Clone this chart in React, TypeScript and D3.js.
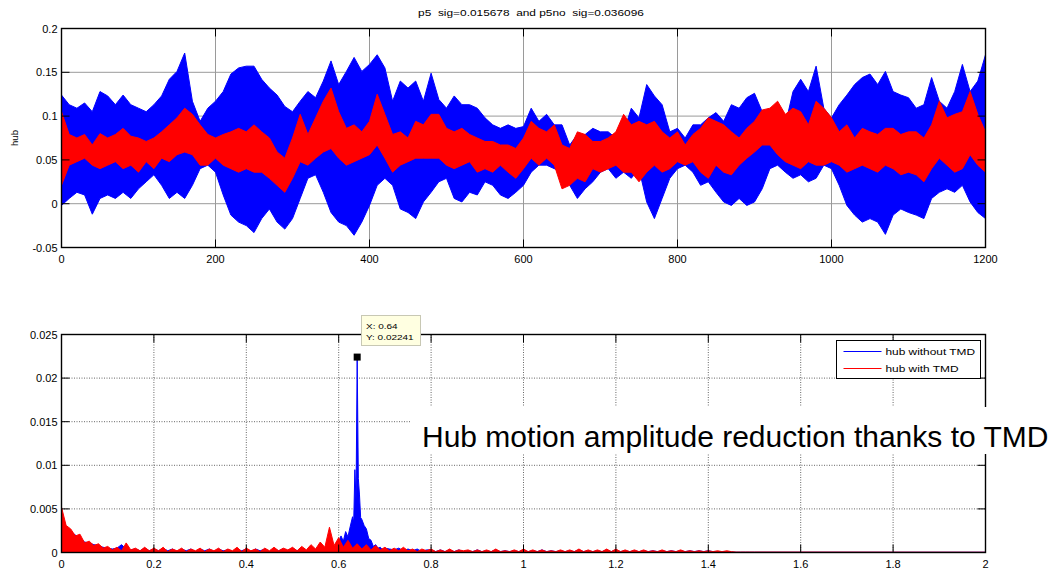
import React from "react";
import * as d3 from "d3";

// ---------- Top panel: time series envelopes (t = 0..1200, every 10 s) ----------
const TIME_STEP = 10;
const BLUE_HI = [
  0.124, 0.113, 0.109, 0.115, 0.105, 0.128, 0.123, 0.113, 0.124, 0.113,
  0.109, 0.105, 0.113, 0.123, 0.142, 0.151, 0.172, 0.117, 0.094, 0.109,
  0.117, 0.128, 0.148, 0.155, 0.157, 0.157, 0.142, 0.132, 0.124, 0.111,
  0.105, 0.117, 0.128, 0.121, 0.140, 0.163, 0.136, 0.151, 0.167, 0.151,
  0.159, 0.170, 0.155, 0.117, 0.140, 0.132, 0.140, 0.117, 0.149, 0.119,
  0.109, 0.123, 0.113, 0.113, 0.109, 0.098, 0.090, 0.086, 0.090, 0.086,
  0.088,
  0.109, 0.094, 0.102, 0.090, 0.090, 0.067, 0.079, 0.079, 0.086, 0.082,
  0.082, 0.075, 0.082, 0.109, 0.098, 0.136, 0.123, 0.113, 0.082, 0.086,
  0.075, 0.090, 0.090, 0.098, 0.104, 0.094, 0.113, 0.109, 0.121, 0.126,
  0.105, 0.082, 0.086, 0.090, 0.128, 0.142, 0.128, 0.157, 0.109, 0.098,
  0.113, 0.124, 0.136, 0.144, 0.148, 0.136, 0.151, 0.128, 0.124, 0.121,
  0.109, 0.113, 0.144, 0.117, 0.109, 0.128, 0.159, 0.128, 0.140, 0.170,
];
const BLUE_LO = [
  -0.002, 0.006, 0.013, 0.010, -0.012, 0.006, 0.010, 0.006, 0.013, 0.006,
  0.017, 0.025, 0.033, 0.021, 0.006, 0.013, 0.006, 0.021, 0.040, 0.044,
  0.036, 0.010, -0.013, -0.021, -0.025, -0.033, -0.017, -0.006, -0.021, -0.029,
  -0.017, 0.006, 0.029, 0.033, 0.013, -0.010, -0.021, -0.025, -0.036, -0.021,
  -0.002, 0.021, 0.029, 0.021, -0.006, -0.010, -0.017, 0.002, 0.013, 0.025,
  0.029, 0.006, 0.002, 0.013, 0.010, 0.025, 0.021, 0.010, 0.006, 0.013,
  0.021,
  0.036, 0.044, 0.044, 0.040, 0.036, 0.021, 0.006, 0.017, 0.025, 0.036,
  0.040, 0.029, 0.036, 0.029, 0.040, 0.002, -0.017, 0.006, 0.029, 0.040,
  0.044, 0.036, 0.021, 0.025, 0.013, 0.002, -0.002, 0.006, -0.002, 0.002,
  0.017, 0.040, 0.044, 0.036, 0.029, 0.033, 0.025, 0.029, 0.044, 0.040,
  0.021, -0.002, -0.013, -0.021, -0.017, -0.021, -0.035, -0.013, -0.006, -0.010,
  -0.013, -0.017, 0.006, 0.013, 0.017, 0.013, 0.021, 0.002, -0.010, -0.017,
];
const RED_HI = [
  0.105, 0.079, 0.075, 0.079, 0.067, 0.080, 0.075, 0.079, 0.086, 0.077,
  0.075, 0.071, 0.075, 0.082, 0.090, 0.098, 0.109, 0.102, 0.090, 0.079,
  0.075, 0.079, 0.082, 0.086, 0.082, 0.090, 0.082, 0.075, 0.059, 0.052,
  0.075, 0.102, 0.079, 0.098, 0.117, 0.132, 0.105, 0.086, 0.090, 0.082,
  0.094, 0.125, 0.102, 0.079, 0.082, 0.075, 0.094, 0.090, 0.102, 0.102,
  0.086, 0.082, 0.086, 0.079, 0.075, 0.071, 0.071, 0.067, 0.067, 0.063,
  0.075,
  0.094, 0.086, 0.082, 0.090, 0.067, 0.063, 0.082, 0.079, 0.071, 0.071,
  0.075, 0.082, 0.102, 0.090, 0.094, 0.090, 0.094, 0.082, 0.075, 0.082,
  0.067, 0.079, 0.086, 0.098, 0.094, 0.090, 0.082, 0.075, 0.086, 0.094,
  0.107, 0.109, 0.117, 0.102, 0.109, 0.105, 0.090, 0.117, 0.109, 0.098,
  0.082, 0.090, 0.075, 0.086, 0.082, 0.079, 0.086, 0.086, 0.079, 0.082,
  0.082, 0.075, 0.090, 0.117, 0.098, 0.102, 0.105, 0.128, 0.102, 0.082,
];
const RED_LO = [
  0.021, 0.044, 0.048, 0.052, 0.044, 0.040, 0.044, 0.048, 0.040, 0.044,
  0.036, 0.048, 0.040, 0.052, 0.048, 0.056, 0.059, 0.056, 0.044, 0.044,
  0.052, 0.044, 0.040, 0.036, 0.040, 0.036, 0.036, 0.029, 0.021, 0.013,
  0.029, 0.048, 0.044, 0.052, 0.059, 0.063, 0.052, 0.044, 0.048, 0.052,
  0.056, 0.067, 0.052, 0.036, 0.044, 0.048, 0.052, 0.052, 0.052, 0.052,
  0.044, 0.040, 0.044, 0.048, 0.036, 0.040, 0.036, 0.044, 0.036, 0.029,
  0.040,
  0.052, 0.044, 0.052, 0.044, 0.017, 0.021, 0.029, 0.025, 0.040, 0.036,
  0.040, 0.044, 0.036, 0.036, 0.025, 0.036, 0.044, 0.036, 0.040, 0.048,
  0.044, 0.048, 0.036, 0.029, 0.044, 0.036, 0.033, 0.044, 0.052, 0.059,
  0.067, 0.067, 0.056, 0.048, 0.044, 0.040, 0.048, 0.044, 0.044, 0.048,
  0.044, 0.036, 0.040, 0.044, 0.040, 0.036, 0.044, 0.040, 0.033, 0.036,
  0.033, 0.025, 0.040, 0.052, 0.044, 0.036, 0.040, 0.056, 0.044, 0.036,
];

// ---------- Bottom panel: amplitude spectra (f = 0..1.5 every 0.01, then 2.0) ----------
const SPEC_STEP = 0.01;
const RED_SPEC = [
  0.0052, 0.0031, 0.0027, 0.0019, 0.0021, 0.0011, 0.0013, 0.0008, 0.0010, 0.0005,
  0.0007, 0.0003, 0.0006, 0.0002, 0.0011, 0.0003, 0.0005, 0.0002, 0.0006, 0.0002,
  0.0005, 0.0002, 0.0006, 0.0001, 0.0004, 0.0002, 0.0005, 0.0001, 0.0004, 0.0002,
  0.0005, 0.0001, 0.0004, 0.0002, 0.0005, 0.0001, 0.0004, 0.0002, 0.0006, 0.0001,
  0.0005, 0.0002, 0.0004, 0.0001, 0.0005, 0.0002, 0.0006, 0.0002, 0.0005, 0.0003,
  0.0006, 0.0002, 0.0007, 0.0003, 0.0009, 0.0004, 0.0012, 0.0006, 0.0029, 0.0008,
  0.0017, 0.0006, 0.0014, 0.0005, 0.0010, 0.0004, 0.0009, 0.0003, 0.0008, 0.0003,
  0.0006, 0.0002, 0.0005, 0.0002, 0.0006, 0.0002, 0.0004, 0.0001, 0.0004, 0.0002,
  0.0004, 0.0001, 0.0003, 0.0001, 0.0004, 0.0001, 0.0003, 0.0002, 0.0003, 0.0001,
  0.0003, 0.0001, 0.0003, 0.0001, 0.0004, 0.0001, 0.0002, 0.0001, 0.0003, 0.0001,
  0.0004, 0.0001, 0.0003, 0.0001, 0.0003, 0.0001, 0.0002, 0.0001, 0.0003, 0.0001,
  0.0003, 0.0001, 0.0004, 0.0001, 0.0003, 0.0001, 0.0003, 0.0001, 0.0004, 0.0001,
  0.0004, 0.0001, 0.0003, 0.0001, 0.0003, 0.0001, 0.0003, 0.0001, 0.0002, 0.0001,
  0.0003, 0.0001, 0.0002, 0.0001, 0.0003, 0.0001, 0.0002, 0.0001, 0.0002, 0.0001,
  0.0002, 0.0001, 0.0002, 0.0001, 0.0002, 0.0001, 0.00005, 0.00005, 0.00005, 0.00005,
  0.00005,
];
const BLUE_SPEC_LOW = [
  0.0045, 0.0029, 0.0024, 0.0020, 0.0017, 0.0012, 0.0011, 0.0009, 0.0008, 0.0006,
  0.0005, 0.0004, 0.0005, 0.0009, 0.0004, 0.0003, 0.0004, 0.0002, 0.0005, 0.0002,
  0.0004, 0.0002, 0.0005, 0.0002, 0.0004, 0.0001, 0.0004, 0.0002, 0.0004, 0.0001,
  0.0004, 0.0002, 0.0004, 0.0001, 0.0004, 0.0002, 0.0003, 0.0001, 0.0004, 0.0002,
  0.0004, 0.0001, 0.0004, 0.0002, 0.0004, 0.0001, 0.0004, 0.0002, 0.0004, 0.0002,
  0.0005, 0.0002, 0.0005, 0.0002, 0.0006, 0.0003, 0.0007, 0.0004, 0.0008, 0.0006,
];
const BLUE_PEAK_FREQ = [
  0.600, 0.605, 0.610, 0.615, 0.620, 0.625, 0.630, 0.6325, 0.635, 0.6375,
  0.640, 0.6425, 0.645, 0.6475, 0.650, 0.655, 0.660, 0.665, 0.670, 0.675,
  0.680, 0.685, 0.690, 0.695, 0.700,
];
const BLUE_PEAK_AMP = [
  0.0012, 0.0019, 0.0013, 0.0024, 0.0018, 0.0030, 0.0041, 0.0035, 0.0095, 0.0060,
  0.02241, 0.0085, 0.0066, 0.0040, 0.0038, 0.0031, 0.0027, 0.0016, 0.0014, 0.0007,
  0.0009, 0.0005, 0.0006, 0.0003, 0.0005,
];
const BLUE_SPEC_HIGH = [
  0.0004, 0.0003, 0.0005, 0.0002, 0.0004, 0.0002, 0.0004, 0.0001, 0.0003,
  0.0003, 0.0001, 0.0003, 0.0001, 0.0003, 0.0001, 0.0003, 0.0001, 0.0002, 0.0001,
  0.0003, 0.0001, 0.0002, 0.0001, 0.0003, 0.0001, 0.0002, 0.0001, 0.0002, 0.0001,
  0.0003, 0.0001, 0.0002, 0.0001, 0.0003, 0.0001, 0.0002, 0.0001, 0.0002, 0.0001,
  0.0002, 0.0001, 0.0003, 0.0001, 0.0002, 0.0001, 0.0002, 0.0001, 0.0003, 0.0001,
  0.0003, 0.0001, 0.0002, 0.0001, 0.0002, 0.0001, 0.0002, 0.0001, 0.0002, 0.0001,
  0.0002, 0.0001, 0.0002, 0.0001, 0.0002, 0.0001, 0.0002, 0.0001, 0.0002, 0.0001,
  0.0002, 0.0001, 0.0001, 0.0001, 0.0001, 0.00005, 0.00003, 0.00003, 0.00003, 0.00003,
  0.00003,
];
const SPEC_END_FREQ = 2.0;
const SPEC_END_AMP = 0.00003;

// ---------- Text / ticks ----------
const TITLE = "p5  sig=0.015678  and p5no  sig=0.036096";
const TOP_YLABEL = "hub";
const TOP_X_TICKS = [0, 200, 400, 600, 800, 1000, 1200];
const TOP_X_LABELS = ["0", "200", "400", "600", "800", "1000", "1200"];
const TOP_Y_TICKS = [-0.05, 0, 0.05, 0.1, 0.15, 0.2];
const TOP_Y_LABELS = ["-0.05", "0", "0.05", "0.1", "0.15", "0.2"];
const BOT_X_TICKS = [0, 0.2, 0.4, 0.6, 0.8, 1, 1.2, 1.4, 1.6, 1.8, 2];
const BOT_X_LABELS = ["0", "0.2", "0.4", "0.6", "0.8", "1", "1.2", "1.4", "1.6", "1.8", "2"];
const BOT_Y_TICKS = [0, 0.005, 0.01, 0.015, 0.02, 0.025];
const BOT_Y_LABELS = ["0", "0.005", "0.01", "0.015", "0.02", "0.025"];
const LEGEND_LABELS = ["hub without TMD", "hub with TMD"];
const SERIES_COLORS = ["#0000ff", "#ff0000"];
const TIP_X = 0.64;
const TIP_Y = 0.02241;
const TIP_LINES = ["X: 0.64", "Y: 0.02241"];
const ANNOTATION = "Hub motion amplitude reduction thanks to TMD";

const FONT = "'Liberation Sans', Arial, Helvetica, sans-serif";

type AxesProps = {
  x: d3.ScaleLinear<number, number>;
  y: d3.ScaleLinear<number, number>;
  xTicks: number[];
  xLabels: string[];
  yTicks: number[];
  yLabels: string[];
  gridColor: string;
  gridDash?: string;
};

function AxesGrid({ x, y, xTicks, yTicks, gridColor, gridDash }: AxesProps) {
  const [x0, x1] = x.range();
  const [y0, y1] = y.range();
  return (
    <g>
      {xTicks.slice(1, -1).map((t, i) => (
        <line key={"gx" + i} x1={x(t)} x2={x(t)} y1={y1} y2={y0} stroke={gridColor} strokeWidth={1} strokeDasharray={gridDash} />
      ))}
      {yTicks.slice(1, -1).map((t, i) => (
        <line key={"gy" + i} x1={x0} x2={x1} y1={y(t)} y2={y(t)} stroke={gridColor} strokeWidth={1} strokeDasharray={gridDash} />
      ))}
    </g>
  );
}

function AxesOverlay({ x, y, xTicks, xLabels, yTicks, yLabels }: AxesProps) {
  const [x0, x1] = x.range();
  const [y0, y1] = y.range();
  const tl = 8;
  return (
    <g>
      <rect x={x0} y={y1} width={x1 - x0} height={y0 - y1} fill="none" stroke="#000" strokeWidth={1.4} />
      {xTicks.map((t, i) => (
        <g key={"tx" + i}>
          <line x1={x(t)} x2={x(t)} y1={y0} y2={y0 - tl} stroke="#000" strokeWidth={1} />
          <line x1={x(t)} x2={x(t)} y1={y1} y2={y1 + tl} stroke="#000" strokeWidth={1} />
          <text x={x(t)} y={y0 + 15} textAnchor="middle" fontSize={11} fontFamily={FONT} fill="#000">
            {xLabels[i]}
          </text>
        </g>
      ))}
      {yTicks.map((t, i) => (
        <g key={"ty" + i}>
          <line x1={x0} x2={x0 + tl} y1={y(t)} y2={y(t)} stroke="#000" strokeWidth={1} />
          <line x1={x1} x2={x1 - tl} y1={y(t)} y2={y(t)} stroke="#000" strokeWidth={1} />
          <text x={x0 - 4} y={y(t) + 4} textAnchor="end" fontSize={11} fontFamily={FONT} fill="#000">
            {yLabels[i]}
          </text>
        </g>
      ))}
    </g>
  );
}

export default function App() {
  const W = 1056;
  const H = 572;

  const xT = d3.scaleLinear().domain([0, 1200]).range([61.5, 985.5]);
  const yT = d3.scaleLinear().domain([-0.05, 0.2]).range([247.5, 28.5]);
  const xB = d3.scaleLinear().domain([0, 2]).range([61.5, 985.5]);
  const yB = d3.scaleLinear().domain([0, 0.025]).range([552.5, 334.5]);

  const envArea = (hi: number[], lo: number[]) =>
    d3
      .area<number>()
      .x((_, i) => xT(i * TIME_STEP))
      .y0((_, i) => yT(lo[i]))
      .y1((_, i) => yT(hi[i]))(hi) || "";

  const redPts: [number, number][] = RED_SPEC.map((v, i) => [i * SPEC_STEP, v] as [number, number]);
  redPts.push([SPEC_END_FREQ, SPEC_END_AMP]);
  const bluePts: [number, number][] = [
    ...BLUE_SPEC_LOW.map((v, i) => [i * SPEC_STEP, v] as [number, number]),
    ...BLUE_PEAK_FREQ.map((f, i) => [f, BLUE_PEAK_AMP[i]] as [number, number]),
    ...BLUE_SPEC_HIGH.map((v, i) => [0.71 + i * SPEC_STEP, v] as [number, number]),
    [SPEC_END_FREQ, SPEC_END_AMP],
  ];
  // dense spectra drawn as a filled band under the sampled peaks
  const specArea = d3
    .area<[number, number]>()
    .x((d) => xB(d[0]))
    .y0(() => yB(0))
    .y1((d) => yB(d[1]));

  const topAx = {
    x: xT, y: yT, xTicks: TOP_X_TICKS, xLabels: TOP_X_LABELS, yTicks: TOP_Y_TICKS, yLabels: TOP_Y_LABELS, gridColor: "#9a9a9a",
  };
  const botAx = {
    x: xB, y: yB, xTicks: BOT_X_TICKS, xLabels: BOT_X_LABELS, yTicks: BOT_Y_TICKS, yLabels: BOT_Y_LABELS, gridColor: "#666", gridDash: "1,1.5",
  };

  const tipX = xB(TIP_X);
  const tipY = yB(TIP_Y);

  const lgX = 836.5, lgY = 340.5, lgW = 144, lgH = 38;

  return (
    <svg
      width={W}
      height={H}
      style={{ position: "absolute", left: 0, top: 0, background: "#fff" }}
      xmlns="http://www.w3.org/2000/svg"
    >
      <rect x={0} y={0} width={W} height={H} fill="#fff" />
      <defs>
        <clipPath id="clipTop">
          <rect x={61.5} y={28.5} width={924} height={219} />
        </clipPath>
        <clipPath id="clipBot">
          <rect x={61.5} y={334.5} width={924} height={218} />
        </clipPath>
      </defs>

      {/* ---------- top panel ---------- */}
      <AxesGrid {...topAx} />
      <g clipPath="url(#clipTop)">
        <path d={envArea(BLUE_HI, BLUE_LO)} fill={SERIES_COLORS[0]} stroke={SERIES_COLORS[0]} strokeWidth={1} />
        <path d={envArea(RED_HI, RED_LO)} fill={SERIES_COLORS[1]} stroke={SERIES_COLORS[1]} strokeWidth={1} />
      </g>
      <AxesOverlay {...topAx} />
      <text
        x={531}
        y={16}
        textAnchor="middle"
        fontSize={9.5}
        fontFamily={FONT}
        style={{ whiteSpace: "pre" }}
        transform="translate(531,0) scale(1.25,1) translate(-531,0)"
      >
        {TITLE}
      </text>
      <text
        transform={`translate(18,${(28.5 + 247.5) / 2}) rotate(-90)`}
        textAnchor="middle"
        fontSize={9.5}
        fontFamily={FONT}
      >
        {TOP_YLABEL}
      </text>

      {/* ---------- bottom panel ---------- */}
      <AxesGrid {...botAx} />
      <g clipPath="url(#clipBot)">
        <path d={specArea(bluePts) || ""} fill={SERIES_COLORS[0]} stroke={SERIES_COLORS[0]} strokeWidth={1} />
        <path d={specArea(redPts) || ""} fill={SERIES_COLORS[1]} stroke={SERIES_COLORS[1]} strokeWidth={1} />
      </g>
      <AxesOverlay {...botAx} />

      {/* annotation with white background */}
      <rect x={411} y={407} width={645} height={47} fill="#fff" />
      <text x={422} y={447} fontSize={30} fontFamily={FONT} fill="#000">
        {ANNOTATION}
      </text>

      {/* legend */}
      <rect x={lgX} y={lgY} width={lgW} height={lgH} fill="#fff" stroke="#000" strokeWidth={1} />
      {LEGEND_LABELS.map((lab, i) => (
        <g key={lab}>
          <line x1={lgX + 7} x2={lgX + 45} y1={lgY + 11 + i * 17} y2={lgY + 11 + i * 17} stroke={SERIES_COLORS[i]} strokeWidth={1} />
          <text
            x={lgX + 49}
            y={lgY + 14.5 + i * 17}
            fontSize={9.5}
            fontFamily={FONT}
            transform={`translate(${lgX + 49},0) scale(1.25,1) translate(${-(lgX + 49)},0)`}
          >
            {lab}
          </text>
        </g>
      ))}

      {/* data tip */}
      <rect x={361.5} y={315.5} width={59} height={30} fill="#ffffe1" stroke="#c8c8b4" strokeWidth={1} />
      {TIP_LINES.map((t, i) => (
        <text
          key={t}
          x={366}
          y={329 + i * 11.5}
          fontSize={7.8}
          fontFamily={FONT}
          transform={`translate(366,0) scale(1.28,1) translate(-366,0)`}
        >
          {t}
        </text>
      ))}
      <rect x={tipX - 3.5} y={tipY - 3.5} width={7} height={7} fill="#000" />
    </svg>
  );
}
